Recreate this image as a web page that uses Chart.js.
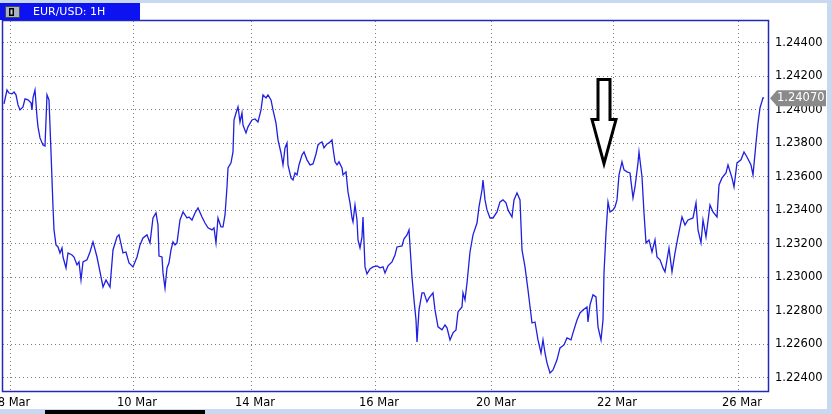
<!DOCTYPE html>
<html>
<head>
<meta charset="utf-8">
<script src="https://cdn.jsdelivr.net/npm/chart.js@4/dist/chart.umd.min.js"></script>
<style>
  html, body { margin: 0; padding: 0; background: #ffffff; }
  canvas { display: block; }
</style>
</head>
<body>
<canvas id="chart" width="832" height="414"></canvas>
<script>
// hourly bar position and EUR/USD close
const hourIdx = [4,7,9,12,14,16,18,20,23,25,28,31,32,33,35,37,38,40,43,45,47,49,51,53,54,56,58,60,62,63,66,68,72,74,77,79,81,83,87,90,93,97,100,103,106,110,113,117,119,123,126,129,133,137,140,143,147,150,153,156,158,159,162,163,165,167,169,171,173,175,177,180,183,187,189,192,195,198,202,205,208,212,214,216,218,221,223,225,227,228,231,233,234,236,238,240,242,243,246,248,252,255,258,261,263,266,268,271,273,276,278,281,283,285,287,288,291,293,295,297,299,302,304,307,310,313,316,318,320,322,324,327,329,332,333,335,337,339,342,343,346,348,350,352,353,355,357,358,360,362,363,365,367,370,373,377,380,383,385,388,392,395,397,402,404,407,409,412,414,416,417,419,422,424,427,429,433,435,438,442,445,447,450,453,456,458,462,463,465,467,470,473,477,479,482,483,485,487,490,493,497,500,503,506,508,512,514,517,520,522,525,528,532,535,538,541,543,545,547,550,553,557,560,564,567,571,573,577,580,583,587,588,590,593,596,598,601,603,604,606,608,610,613,615,617,619,622,624,627,630,633,635,638,639,642,644,646,649,652,655,657,660,663,665,669,672,675,678,682,685,688,693,696,698,701,703,706,710,713,717,719,722,726,728,732,734,737,741,744,747,751,753,756,758,760,763,764];

const eurusd = [1.24036,1.24119,1.24101,1.24096,1.24107,1.24090,1.24030,1.24000,1.24018,1.24066,1.24060,1.24042,1.24000,1.24072,1.24119,1.23958,1.23899,1.23833,1.23791,1.23785,1.24090,1.24060,1.23749,1.23421,1.23284,1.23194,1.23182,1.23146,1.23176,1.23122,1.23057,1.23146,1.23134,1.23122,1.23075,1.23093,1.22985,1.23093,1.23105,1.23152,1.23212,1.23122,1.23033,1.22943,1.22985,1.22943,1.23164,1.23242,1.23254,1.23146,1.23152,1.23087,1.23063,1.23122,1.23194,1.23236,1.23254,1.23206,1.23355,1.23385,1.23313,1.23128,1.23122,1.23027,1.22937,1.23057,1.23087,1.23164,1.23212,1.23194,1.23206,1.23343,1.23391,1.23355,1.23361,1.23343,1.23385,1.23415,1.23361,1.23325,1.23296,1.23284,1.23296,1.23206,1.23355,1.23302,1.23302,1.23373,1.23540,1.23654,1.23684,1.23749,1.23940,1.23982,1.24018,1.23928,1.23982,1.23910,1.23863,1.23899,1.23940,1.23946,1.23928,1.24000,1.24090,1.24072,1.24090,1.24060,1.24000,1.23922,1.23821,1.23743,1.23672,1.23773,1.23803,1.23672,1.23594,1.23582,1.23624,1.23612,1.23672,1.23731,1.23749,1.23702,1.23672,1.23678,1.23737,1.23791,1.23803,1.23809,1.23773,1.23797,1.23803,1.23821,1.23773,1.23690,1.23672,1.23690,1.23654,1.23612,1.23630,1.23510,1.23445,1.23355,1.23331,1.23433,1.23343,1.23224,1.23176,1.23242,1.23361,1.23063,1.23021,1.23051,1.23063,1.23069,1.23057,1.23063,1.23027,1.23069,1.23093,1.23134,1.23182,1.23188,1.23230,1.23254,1.23284,1.23003,1.22866,1.22746,1.22615,1.22806,1.22908,1.22908,1.22854,1.22878,1.22908,1.22806,1.22705,1.22687,1.22716,1.22699,1.22627,1.22669,1.22687,1.22794,1.22824,1.22908,1.22866,1.22967,1.23152,1.23254,1.23325,1.23421,1.23522,1.23582,1.23463,1.23403,1.23355,1.23355,1.23391,1.23451,1.23463,1.23445,1.23403,1.23361,1.23463,1.23505,1.23463,1.23164,1.23063,1.22925,1.22728,1.22734,1.22627,1.22549,1.22627,1.22549,1.22490,1.22430,1.22448,1.22508,1.22579,1.22597,1.22639,1.22627,1.22669,1.22746,1.22788,1.22806,1.22824,1.22734,1.22836,1.22896,1.22884,1.22705,1.22627,1.22746,1.23027,1.23266,1.23451,1.23391,1.23403,1.23421,1.23463,1.23612,1.23690,1.23642,1.23630,1.23624,1.23475,1.23540,1.23684,1.23749,1.23600,1.23385,1.23206,1.23224,1.23152,1.23224,1.23122,1.23105,1.23057,1.23033,1.23176,1.23033,1.23146,1.23242,1.23361,1.23313,1.23343,1.23355,1.23445,1.23284,1.23206,1.23343,1.23242,1.23433,1.23391,1.23361,1.23552,1.23594,1.23624,1.23672,1.23594,1.23540,1.23684,1.23702,1.23749,1.23719,1.23672,1.23612,1.23803,1.23922,1.24012,1.24072,1.24070];

const dateTickPos = [10, 133, 251, 375, 492, 613, 738];
const dateLabels = ['8 Mar', '10 Mar', '14 Mar', '16 Mar', '20 Mar', '22 Mar', '26 Mar'];
const priceTicks = [1.224, 1.226, 1.228, 1.230, 1.232, 1.234, 1.236, 1.238, 1.240, 1.242, 1.244];
const lastPrice = 1.24070;
const arrowAt = 604;
const arrowTip = 1.2368;

const labelFont = { family: 'DejaVu Sans', size: 11.5 };

const chromePlugin = {
  id: 'chrome',
  beforeDraw(chart) {
    const c = chart.ctx;
    c.save();
    c.fillStyle = '#ffffff';
    c.fillRect(0, 0, chart.width, chart.height);
    c.fillStyle = '#c8d8ef';
    c.fillRect(0, 0, chart.width, 3);
    c.fillRect(827, 0, 5, chart.height);
    c.fillRect(0, 409, chart.width, 5);
    c.fillStyle = '#000000';
    c.fillRect(45, 410, 160, 4);
    c.restore();
  },
  afterDraw(chart) {
    const c = chart.ctx;
    const a = chart.chartArea;
    const xs = chart.scales.x, ys = chart.scales.y;
    c.save();

    // blue frame round the plot
    c.strokeStyle = '#2228b8';
    c.lineWidth = 1.5;
    c.strokeRect(a.left - 0.5, a.top - 0.5, a.right - a.left + 1, a.bottom - a.top + 1);

    // title tab
    c.fillStyle = '#0c12f0';
    c.fillRect(0, 3, 140, 17);
    c.fillStyle = '#a8b4c4';
    c.fillRect(5, 6, 15, 12);
    c.strokeStyle = '#404858';
    c.lineWidth = 1;
    c.strokeRect(5.5, 6.5, 14, 11);
    c.fillStyle = '#000000';
    c.fillRect(9, 8, 5, 8);
    c.fillStyle = '#c8d0dc';
    c.fillRect(10.5, 9.5, 2, 5);
    c.fillStyle = '#ffffff';
    c.font = '11px "DejaVu Sans"';
    c.textBaseline = 'middle';
    c.fillText('EUR/USD: 1H', 33, 12);

    // last price tag
    const py = ys.getPixelForValue(lastPrice);
    c.fillStyle = '#8a8a8a';
    c.beginPath();
    c.moveTo(770, py);
    c.lineTo(777, py - 8);
    c.lineTo(826, py - 8);
    c.lineTo(826, py + 8);
    c.lineTo(777, py + 8);
    c.closePath();
    c.fill();
    c.fillStyle = '#ffffff';
    c.font = '11.5px "DejaVu Sans"';
    c.fillText(lastPrice.toFixed(5), 777, py);

    // hollow down arrow
    const tx = xs.getPixelForValue(arrowAt);
    const ty = ys.getPixelForValue(arrowTip);
    c.beginPath();
    c.moveTo(tx - 6, ty - 84);
    c.lineTo(tx + 6, ty - 84);
    c.lineTo(tx + 6, ty - 44);
    c.lineTo(tx + 12, ty - 44);
    c.lineTo(tx, ty);
    c.lineTo(tx - 12, ty - 44);
    c.lineTo(tx - 6, ty - 44);
    c.closePath();
    c.fillStyle = '#ffffff';
    c.fill();
    c.strokeStyle = '#000000';
    c.lineWidth = 3;
    c.lineJoin = 'miter';
    c.stroke();

    c.restore();
  }
};

new Chart(document.getElementById('chart'), {
  type: 'line',
  data: {
    datasets: [{
      label: 'EUR/USD',
      data: hourIdx.map((h, i) => ({ x: h, y: eurusd[i] })),
      borderColor: '#1f1fe0',
      borderWidth: 1.3,
      pointRadius: 0,
      tension: 0,
      fill: false
    }]
  },
  options: {
    responsive: false,
    animation: false,
    events: [],
    layout: { padding: { top: 21, left: 3, right: 0, bottom: 0 } },
    plugins: { legend: { display: false }, tooltip: { enabled: false } },
    scales: {
      x: {
        type: 'linear',
        min: 3,
        max: 768,
        afterBuildTicks: (s) => { s.ticks = dateTickPos.map(v => ({ value: v })); },
        afterFit: (s) => {
          s.height = 23;
          s.paddingLeft = 0;
          s.paddingRight = 0;
        },
        ticks: {
          callback: (v, i) => dateLabels[i],
          autoSkip: false,
          maxRotation: 0,
          labelOffset: 4,
          padding: 5,
          color: '#000000',
          font: labelFont
        },
        grid: { color: '#7c7c7c', lineWidth: 1, drawTicks: false },
        border: { display: false, dash: [1, 3] }
      },
      y: {
        type: 'linear',
        position: 'right',
        min: 1.22322,
        max: 1.24531,
        afterBuildTicks: (s) => { s.ticks = priceTicks.map(v => ({ value: v })); },
        afterFit: (s) => {
          s.width = 64;
          s.paddingTop = 0;
          s.paddingBottom = 0;
        },
        ticks: {
          callback: (v) => v.toFixed(5),
          padding: 7,
          color: '#000000',
          font: labelFont
        },
        grid: { color: '#7c7c7c', lineWidth: 1, drawTicks: false },
        border: { display: false, dash: [1, 3] }
      }
    }
  },
  plugins: [chromePlugin]
});
</script>
</body>
</html>
